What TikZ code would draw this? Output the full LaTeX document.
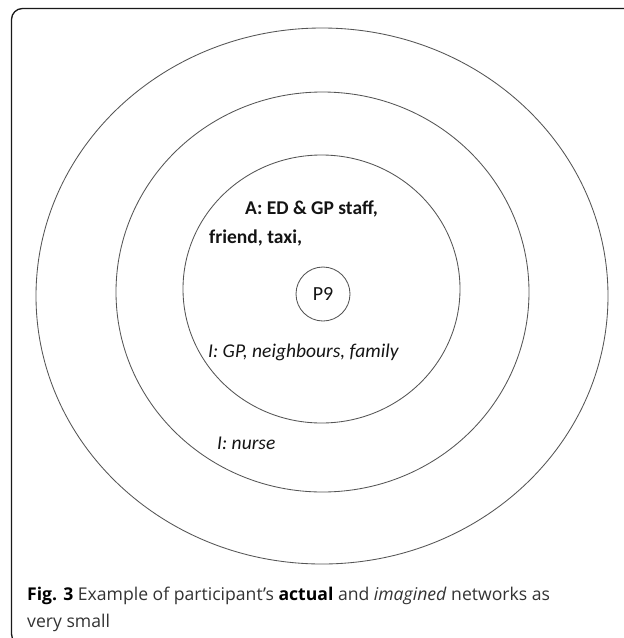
\documentclass[tikz,border=0pt]{standalone}
\usepackage{fontspec}
\usetikzlibrary{shapes.geometric}
\setmainfont{Carlito}
\newfontfamily\capfont{Open Sans}
\definecolor{ringgray}{HTML}{555555}
\definecolor{txt}{HTML}{141414}
\definecolor{captxt}{HTML}{333333}
\begin{document}
\begin{tikzpicture}[x=1pt,y=-1pt,
  ring/.style={draw=ringgray, line width=0.85pt, ellipse, inner sep=0pt},
  lbl/.style={anchor=base west, inner sep=0pt, text=txt},
  caption/.style={anchor=base west, inner sep=0pt, text=captxt, font=\capfont\fontsize{17.6}{21}\selectfont}]
\useasboundingbox (0,0) rectangle (624,638);
\clip (0,0) rectangle (624,638);
\fill[white] (0,0) rectangle (624,638);
% frame
\draw[line width=1.3pt, draw=black!90, rounded corners=11pt] (640,8.5) -- (11.5,8.5) -- (11.5,645) -- (60,645);
% rings
\node[ring, minimum width=572pt, minimum height=536pt] (outer) at (322,296) {};
\node[ring, minimum width=413pt, minimum height=400pt] (middle) at (322.5,292) {};
\node[ring, minimum width=277pt, minimum height=268pt] (inner) at (321.5,289) {};
\node[ring, circle, minimum size=54pt, text=txt, font=\fontsize{20}{24}\selectfont] (p9) at (323,294) {P9};
% labels
\node[lbl, font=\bfseries\fontsize{19.5}{23}\selectfont] (a1) at (245,214) {A: ED \& GP staff,};
\node[lbl, font=\bfseries\fontsize{19.5}{23}\selectfont] (a2) at (209,243) {friend,~taxi,};
\node[lbl, font=\itshape\fontsize{19.5}{23}\selectfont] (i1) at (208,357) {I: GP, neighbours, family};
\node[lbl, font=\itshape\fontsize{19.5}{23}\selectfont] (i2) at (217,449) {I: nurse};
% caption
\node[caption] (cap1) at (27,600) {\textcolor{black}{\bfseries Fig. 3} Example of participant’s \textcolor{black}{\bfseries actual} and \textit{imagined} networks as};
\node[caption] (cap2) at (27,627) {very small};
\end{tikzpicture}
\end{document}
